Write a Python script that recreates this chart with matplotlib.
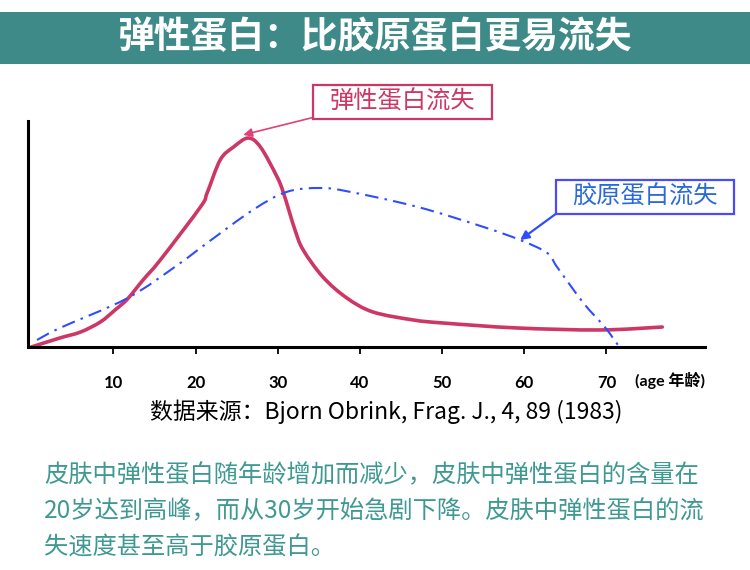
import matplotlib.pyplot as plt
import numpy as np
from matplotlib.path import Path
from matplotlib.patches import PathPatch, Rectangle

plt.rcParams['font.family'] = ['Noto Sans CJK SC', 'DejaVu Sans']

# elastin loss curve (age, relative amount)
elastin_age = [0, 3.5, 6.0, 8.4, 10.2, 11.7, 13.6, 15.7, 20.6, 21.4, 23.0, 24.6,
               26.4, 27.9, 29.9, 30.7, 32.1, 33.1, 35.5, 38.4, 41.6, 46.5, 50.0,
               59.0, 69.2, 76.8]
elastin_val = [0, 4.0, 6.6, 11.0, 16.3, 21.1, 29.5, 38.3, 61.7, 67.8, 82.4, 88.0,
               92.0, 88.0, 75.0, 67.8, 51.5, 42.7, 30.8, 21.6, 15.4, 11.9, 10.6,
               8.4, 7.5, 8.8]

# collagen loss curve
collagen_age = [0.7, 3.5, 11.7, 17.8, 21.4, 27.0, 31.1, 35.2, 38.8, 47.0, 55.0,
                59.5, 62.8, 64.0, 67.2, 69.8, 71.4]
collagen_val = [3.1, 8.4, 21.5, 36.1, 45.8, 60.4, 68.3, 70.0, 68.3, 61.7, 52.9,
                47.1, 41.4, 35.2, 19.4, 8.8, 0.9]

age_ticks = [10, 20, 30, 40, 50, 60, 70]

title = '弹性蛋白：比胶原蛋白更易流失'
source = '数据来源：Bjorn Obrink, Frag. J., 4, 89 (1983)'
note_lines = ['皮肤中弹性蛋白随年龄增加而减少，皮肤中弹性蛋白的含量在',
              '20岁达到高峰，而从30岁开始急剧下降。皮肤中弹性蛋白的流',
              '失速度甚至高于胶原蛋白。']


def smooth_path(xs, ys):
    # catmull-rom through the points, drawn as cubic bezier segments
    pts = np.column_stack([xs, ys]).astype(float)
    verts = [pts[0]]
    codes = [Path.MOVETO]
    n = len(pts)
    for i in range(n - 1):
        p0 = pts[max(i - 1, 0)]
        p1 = pts[i]
        p2 = pts[i + 1]
        p3 = pts[min(i + 2, n - 1)]
        c1 = p1 + (p2 - p0) / 6.0
        c2 = p2 - (p3 - p1) / 6.0
        verts += [c1, c2, p2]
        codes += [Path.CURVE4] * 3
    return Path(verts, codes)


W, H = 750, 570
fig = plt.figure(figsize=(W / 100, H / 100), dpi=100)

# title band
band = fig.add_axes([0, 1 - 64 / H, 1, 52 / H])
band.set_facecolor('#3e8a88')
band.set_xticks([])
band.set_yticks([])
for s in band.spines.values():
    s.set_visible(False)
band.text(0.5, 0.5, title, color='white', fontsize=26.5, fontweight='bold',
          ha='center', va='center', transform=band.transAxes)

# main chart
ax = fig.add_axes([28 / W, 1 - 347 / H, 677 / W, 226 / H])
red = '#cc3766'
blue = '#2f4dff'
ax.add_patch(PathPatch(smooth_path(elastin_age, elastin_val), fc='none',
                       ec=red, lw=2.6, capstyle='round'))
ax.add_patch(PathPatch(smooth_path(collagen_age, collagen_val), fc='none',
                       ec=blue, lw=1.5, linestyle=(0, (6.5, 3, 1.2, 3))))

ax.set_xlim(-0.4, 82)
ax.set_ylim(0, 99.5)
ax.spines['top'].set_visible(False)
ax.spines['right'].set_visible(False)
ax.spines['left'].set_linewidth(2.2)
ax.spines['bottom'].set_linewidth(2.2)
ax.set_yticks([])
ax.set_xticks(age_ticks)
ax.set_xticklabels([str(t) for t in age_ticks], fontsize=12, fontweight='bold',
                   family=['Lato', 'Noto Sans CJK SC'])
ax.tick_params(axis='x', direction='out', length=5, width=1.3, pad=15)
ax.text(77.8, -14.8, '(age 年龄)', fontsize=11.5, fontweight='bold',
        family=['Lato', 'Noto Sans CJK SC'], ha='center', va='center',
        clip_on=False)

# callouts: boxes in figure pixels, arrows pointing into the data
def callout(label, box, color, text_color, edge, tail, head, lw):
    x0, y0, x1, y1 = box
    fig.patches.append(Rectangle((x0 / W, 1 - y1 / H), (x1 - x0) / W, (y1 - y0) / H,
                                 transform=fig.transFigure, fc='white', ec=edge, lw=1.6))
    fig.text((x0 + x1) / 2 / W, 1 - (y0 + y1) / 2 / H, label, fontsize=17.5,
             color=text_color, ha='center', va='center')
    ax.annotate('', xy=head, xycoords='data',
                xytext=(tail[0], H - tail[1]), textcoords='figure pixels',
                arrowprops=dict(arrowstyle='-|>', color=color, lw=lw,
                                shrinkA=0, shrinkB=0, mutation_scale=13))


callout('弹性蛋白流失', (313, 85, 492, 119), '#e2407a', red, red,
        (315, 117), (25.8, 93.4), 1.2)
callout('胶原蛋白流失', (556, 180, 734, 214), blue, '#2a6ad8', '#4a4aff',
        (557, 213), (59.5, 47.1), 1.6)

fig.text(386 / W, 1 - 412 / H, source, fontsize=16.5, ha='center', va='center')

for i, line in enumerate(note_lines):
    fig.text(44 / W, 1 - (475 + 36.5 * i) / H, line, fontsize=17.5,
             color='#3f9992', ha='left', va='center')

fig.savefig('out.png', dpi=100)
